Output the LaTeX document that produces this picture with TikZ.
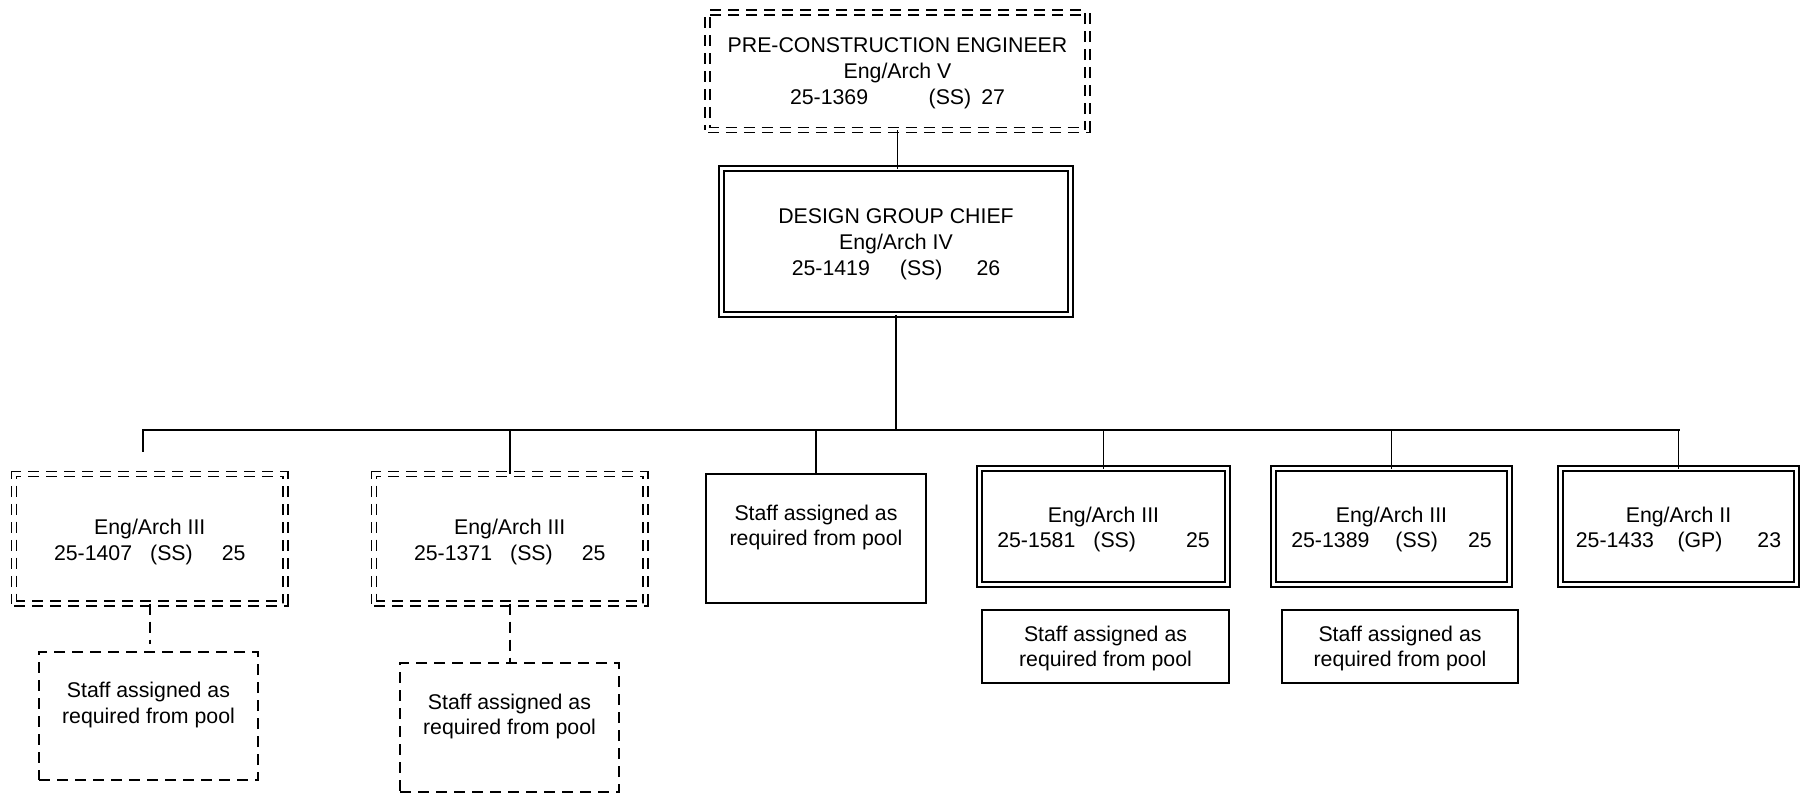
\documentclass[tikz,border=0pt]{standalone}
\usepackage{fontspec}
\setmainfont{Liberation Sans}
\begin{document}
\begin{tikzpicture}[x=1pt,y=-1pt,
  every node/.style={font=\fontsize{21.3}{25.8}\selectfont, align=center, inner sep=0pt, outer sep=0pt},
  sbox/.style={draw, line width=1.6pt, rectangle},
  dbox/.style={draw, line width=1.5pt, double=white, double distance=3.3pt, rectangle},
  ddbox/.style={dbox, dash pattern=on 11pt off 7pt},
  dsbox/.style={sbox, dash pattern=on 11pt off 7pt},
  conn/.style={line width=1.9pt},
  dconn/.style={line width=1.9pt, dash pattern=on 11pt off 7pt},
  lbl/.style={}
]
\useasboundingbox (0,0) rectangle (1811,793);

% boxes
\node[ddbox, minimum width=380pt, minimum height=117.5pt] (pce) at (897.5,71.25) {};
\node[dbox, minimum width=349pt, minimum height=146pt] (dgc) at (896,241.5) {};
\node[ddbox, minimum width=271.5pt, minimum height=129.5pt] (b1) at (149.75,538.75) {};
\node[ddbox, minimum width=271.5pt, minimum height=129.5pt] (b2) at (509.75,538.75) {};
\node[sbox, minimum width=220pt, minimum height=129pt] (b3) at (816,538.5) {};
\node[dbox, minimum width=248pt, minimum height=116pt] (b4) at (1103.5,526.5) {};
\node[dbox, minimum width=236pt, minimum height=116pt] (b5) at (1391.5,526.5) {};
\node[dbox, minimum width=236pt, minimum height=116pt] (b6) at (1678.5,526.5) {};
\node[dsbox, minimum width=219pt, minimum height=128pt] (c1) at (148.5,716) {};
\node[dsbox, minimum width=219pt, minimum height=129pt] (c2) at (509.5,727.5) {};
\node[sbox, minimum width=247pt, minimum height=73pt] (c4) at (1105.5,646.5) {};
\node[sbox, minimum width=236pt, minimum height=73pt] (c5) at (1400,646.5) {};

% texts
\path (pce.center) ++(0,2) node[lbl] (tpce)
  {PRE-CONSTRUCTION ENGINEER\\Eng/Arch V\\25-1369\hspace{60.5pt}(SS)\hspace{10pt}27};
\path (dgc.center) ++(0,3) node[lbl] (tdgc)
  {DESIGN GROUP CHIEF\\Eng/Arch IV\\25-1419\hspace{30pt}(SS)\hspace{34pt}26};
\path (b1.center) ++(0,3) node[lbl] (tb1) {Eng/Arch III\\25-1407\hspace{18pt}(SS)\hspace{29pt}25};
\path (b2.center) ++(0,3) node[lbl] (tb2) {Eng/Arch III\\25-1371\hspace{18pt}(SS)\hspace{29pt}25};
\path (b3.center) ++(0,-11) node[lbl] (tb3) {Staff assigned as\\required from pool};
\path (b4.center) ++(0,3) node[lbl] (tb4) {Eng/Arch III\\25-1581\hspace{18pt}(SS)\hspace{50pt}25};
\path (b5.center) ++(0,3) node[lbl] (tb5) {Eng/Arch III\\25-1389\hspace{26pt}(SS)\hspace{30pt}25};
\path (b6.center) ++(0,3) node[lbl] (tb6) {Eng/Arch II\\25-1433\hspace{23.5pt}(GP)\hspace{35pt}23};
\path (c1.center) ++(0,-11) node[lbl] (tc1) {Staff assigned as\\required from pool};
\path (c2.center) ++(0,-11) node[lbl] (tc2) {Staff assigned as\\required from pool};
\path (c4.center) ++(0,2) node[lbl] (tc4) {Staff assigned as\\required from pool};
\path (c5.center) ++(0,2) node[lbl] (tc5) {Staff assigned as\\required from pool};

% connectors
\coordinate (busL) at (143,430);
\coordinate (busR) at (1678.5,430);
\coordinate (b1stub) at (143,452);
\coordinate (c1stub) at (149.75,644);

\draw[conn] (pce.south) -- (pce.south |- dgc.north);
\draw[line width=2.8pt] (dgc.south) -- (dgc.south |- busL);
\draw[line width=2.1pt, line cap=rect] (busL) -- (busR);
\draw[conn] (busL) -- (b1stub);
\draw[conn] (b2.north |- busL) -- (b2.north);
\draw[conn] (b3.north |- busL) -- (b3.north);
\draw[conn] (b4.north |- busL) -- (b4.north);
\draw[conn] (b5.north |- busL) -- (b5.north);
\draw[conn] (busR) -- (b6.north);
\draw[dconn] (b1.south) -- (c1stub);
\draw[dconn] (b2.south) -- (b2.south |- c2.north);
\end{tikzpicture}
\end{document}
